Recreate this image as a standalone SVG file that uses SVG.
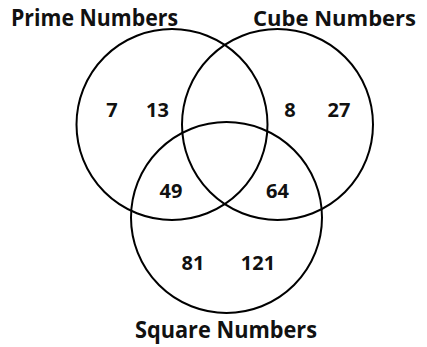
<svg xmlns="http://www.w3.org/2000/svg" width="427" height="347" viewBox="0 0 427 347">
<style>
.c{fill:none;stroke:#000;stroke-width:2}
.t{font-family:"Open Sans","Liberation Sans",sans-serif;font-weight:bold;fill:#111}
.h{font-size:24px}
.n{font-size:20px}
</style>
<rect width="427" height="347" fill="#fff"/>
<g id="prime"><circle class="c" cx="172" cy="124.5" r="95.5"/>
<text class="t h" x="11" y="26" textLength="167" lengthAdjust="spacingAndGlyphs">Prime Numbers</text></g>
<g id="cube"><circle class="c" cx="277.5" cy="124.5" r="95.5"/>
<text class="t" x="416" y="26" text-anchor="end" style="font-size:22px">Cube Numbers</text></g>
<g id="square"><circle class="c" cx="226.5" cy="217.5" r="95.5"/>
<text class="t h" x="135" y="338" textLength="182" lengthAdjust="spacingAndGlyphs">Square Numbers</text></g>
<g id="values">
<text class="t n" x="112" y="117" text-anchor="middle">7</text>
<text class="t n" x="157.5" y="117" text-anchor="middle">13</text>
<text class="t n" x="290" y="117" text-anchor="middle">8</text>
<text class="t n" x="339" y="117" text-anchor="middle">27</text>
<text class="t n" x="171" y="198" text-anchor="middle">49</text>
<text class="t n" x="277.5" y="198" text-anchor="middle">64</text>
<text class="t n" x="193" y="270" text-anchor="middle">81</text>
<text class="t n" x="258" y="270" text-anchor="middle">121</text>
</g>
</svg>
